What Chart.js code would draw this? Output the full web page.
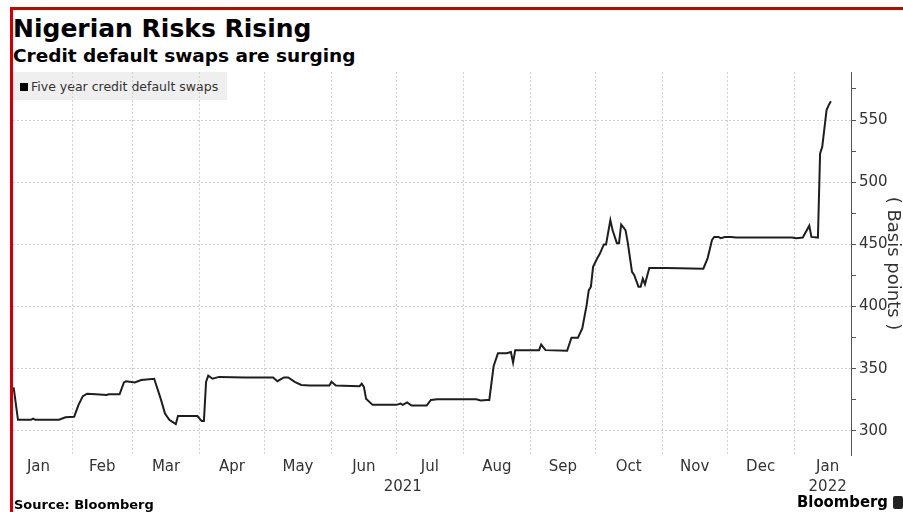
<!DOCTYPE html>
<html>
<head>
<meta charset="utf-8">
<script src="https://cdn.jsdelivr.net/npm/chart.js@4/dist/chart.umd.min.js"></script>
<style>
html,body{margin:0;padding:0;background:#fff;}
body{width:903px;height:512px;position:relative;overflow:hidden;font-family:"DejaVu Sans",sans-serif;}
#frame{position:absolute;left:10px;top:7px;width:1000px;height:600px;border-left:3px solid #cc0000;border-top:3px solid #cc0000;}
#title{position:absolute;left:13px;top:16px;font:bold 25px/25px "DejaVu Sans";color:#000;white-space:nowrap;}
#subtitle{position:absolute;left:13px;top:47px;font:bold 18.5px/18.5px "DejaVu Sans";color:#000;white-space:nowrap;}
#legend{position:absolute;left:13px;top:72px;width:214px;height:28px;background:#efefef;}
#legend .sw{position:absolute;left:7px;top:11px;width:8px;height:8px;background:#000;}
#legend .tx{position:absolute;left:18px;top:7px;font:12.5px/16px "DejaVu Sans";color:#333;white-space:nowrap;}
#wrap{position:absolute;left:13px;top:72px;width:890px;height:440px;}
#source{position:absolute;left:14px;top:498px;font:bold 13px/13px "DejaVu Sans";color:#000;white-space:nowrap;}
#brand{position:absolute;left:797px;top:494px;font:bold 16.5px/16.5px "DejaVu Sans Condensed","DejaVu Sans";color:#000;white-space:nowrap;}
#icon{position:absolute;left:893px;top:496px;width:10px;height:13px;background:#222;border-radius:2px;}
</style>
</head>
<body>
<div id="frame"></div>
<div id="title">Nigerian Risks Rising</div>
<div id="subtitle">Credit default swaps are surging</div>
<div id="legend"><div class="sw"></div><div class="tx">Five year credit default swaps</div></div>
<div id="wrap"><canvas id="c"></canvas></div>
<div id="source">Source: Bloomberg</div>
<div id="brand">Bloomberg</div>
<div id="icon"></div>
<script>
// ---- data ----
const dates = [
 "2021-01-05","2021-01-07","2021-01-13","2021-01-14","2021-01-15","2021-01-26","2021-01-29",
 "2021-02-02","2021-02-04","2021-02-06","2021-02-08","2021-02-12","2021-02-17","2021-02-18","2021-02-23","2021-02-25","2021-02-26",
 "2021-03-02","2021-03-05","2021-03-11","2021-03-14","2021-03-16","2021-03-18","2021-03-21","2021-03-22","2021-03-31",
 "2021-04-02","2021-04-03","2021-04-04","2021-04-05","2021-04-07","2021-04-10","2021-04-22",
 "2021-05-05","2021-05-07","2021-05-10","2021-05-12","2021-05-15","2021-05-18","2021-05-22","2021-05-31",
 "2021-06-01","2021-06-03","2021-06-14","2021-06-15","2021-06-16","2021-06-17","2021-06-20",
 "2021-07-01","2021-07-03","2021-07-04","2021-07-06","2021-07-08","2021-07-15","2021-07-17","2021-07-20",
 "2021-08-07","2021-08-09","2021-08-12","2021-08-13","2021-08-15","2021-08-17","2021-08-21","2021-08-23","2021-08-24","2021-08-25",
 "2021-09-05","2021-09-06","2021-09-08","2021-09-18","2021-09-20","2021-09-23","2021-09-25","2021-09-27","2021-09-28","2021-09-29","2021-09-30",
 "2021-10-02","2021-10-03","2021-10-05","2021-10-06","2021-10-08","2021-10-09","2021-10-11","2021-10-12","2021-10-13","2021-10-15","2021-10-16",
 "2021-10-18","2021-10-19","2021-10-21","2021-10-22","2021-10-23","2021-10-24","2021-10-26",
 "2021-11-03","2021-11-20","2021-11-22","2021-11-24","2021-11-25","2021-11-27","2021-11-28","2021-11-30",
 "2021-12-03","2021-12-05","2021-12-31",
 "2022-01-02","2022-01-05","2022-01-08","2022-01-09","2022-01-12","2022-01-13","2022-01-14","2022-01-16","2022-01-17","2022-01-18"
];
const cds = [
 335,309,309,310,309,309,311,
 311.5,321,328,330,329.5,329,329.5,329.5,339,340,
 339,341,342,326,314,309,305.5,312,312,
 308,308,339.5,344.5,342,343.5,343,
 343,340,343,343,339.5,337,336.5,336.5,
 339.5,336.5,336,338,335.5,326,321,
 321,322,321,323,320.5,320.5,325,325.5,
 325.5,324.5,325,325,352,362.5,362.5,363.5,355,365,
 365,369.5,365,364.5,375,375,382.5,401,413,416,432,
 439,442,450,450,469.5,461.5,451,451,466,461.5,452,
 428,425.5,416,416,422.5,418,431,
 431,430.5,439,453.5,456,456,455,456,
 456,455.5,455.5,
 455,455.5,465,456,455.5,523,528.5,558,562,565
];
const monthLabels = ["Jan","Feb","Mar","Apr","May","Jun","Jul","Aug","Sep","Oct","Nov","Dec","Jan"];
const yearLabels = ["2021","2022"];
const yTickValues = [300,325,350,375,400,425,450,475,500,525,550,575];
const seriesName = "Five year credit default swaps";
const axisTitle = "( Basis points )";

// ---- helpers ----
const BASE = Date.UTC(2021,0,1);
const dayOf = s => { const p = s.split("-").map(Number); return (Date.UTC(p[0],p[1]-1,p[2]) - BASE)/86400000; };
const monthStart = k => (Date.UTC(2021,k,1) - BASE)/86400000;
const points = dates.map((d,i)=>({x:dayOf(d), y:cds[i]}));
const gridTicks = []; for (let k=1;k<=12;k++) gridTicks.push(monthStart(k));
const labelTicks = monthLabels.map((m,k)=>({value:(monthStart(k)+monthStart(k+1))/2, label: k===12 ? [m, yearLabels[1]] : m}));
labelTicks.push({value:184, label:["", yearLabels[0]]});
labelTicks.sort((a,b)=>a.value-b.value);

const X_MIN = 3.7, X_MAX = 391.3;
const tickFont = {family:"DejaVu Sans", size:15, lineHeight:1.35};
const zeroPad = s => { s.paddingTop=0; s.paddingBottom=0; s.paddingLeft=0; s.paddingRight=0; };

new Chart(document.getElementById("c"), {
  type:"line",
  data:{ datasets:[{ label:seriesName, data:points, borderColor:"#1e1e1e", borderWidth:2, pointRadius:0, tension:0, fill:false, xAxisID:"x", yAxisID:"y" }] },
  options:{
    responsive:true, maintainAspectRatio:false, animation:false,
    layout:{padding:0},
    plugins:{ legend:{display:false}, tooltip:{enabled:false} },
    scales:{
      x:{
        type:"linear", position:"bottom", min:X_MIN, max:X_MAX, weight:0,
        afterBuildTicks: s => { s.ticks = gridTicks.map(v=>({value:v})); },
        ticks:{display:false},
        grid:{display:true, drawTicks:false, color:"#d2d2d2", lineWidth:1},
        border:{display:false, dash:[2,2]},
        afterFit: s => { s.height = 0; zeroPad(s); }
      },
      x2:{
        type:"linear", position:"bottom", min:X_MIN, max:X_MAX, weight:1,
        afterBuildTicks: s => { s.ticks = labelTicks.map(t=>({value:t.value})); },
        ticks:{ autoSkip:false, maxRotation:0, minRotation:0, padding:2, color:"#333", font:tickFont,
          callback:(v,i)=>labelTicks[i] ? labelTicks[i].label : "" },
        grid:{display:false, drawTicks:false},
        border:{display:false},
        afterFit: s => { s.height = 57; zeroPad(s); }
      },
      y:{
        type:"linear", position:"right", min:280.7, max:588.6,
        afterBuildTicks: s => { s.ticks = yTickValues.map(v=>({value:v})); },
        ticks:{ color:"#333", font:{family:"DejaVu Sans", size:15}, padding:3, callback:v => (v % 50 === 0 ? String(v) : "") },
        grid:{ color: c => (c.tick && c.tick.value % 50 === 0) ? "#d2d2d2" : "rgba(0,0,0,0)", tickColor:"#555", tickLength:5, lineWidth:1 },
        border:{ display:true, color:"#555", width:1, dash:[2,2] },
        title:{ display:true, text:axisTitle, color:"#333", font:{family:"DejaVu Sans", size:18}, padding:{top:0,bottom:0} },
        afterFit: s => { s.width = 52; zeroPad(s); }
      }
    }
  }
});
</script>
</body>
</html>
